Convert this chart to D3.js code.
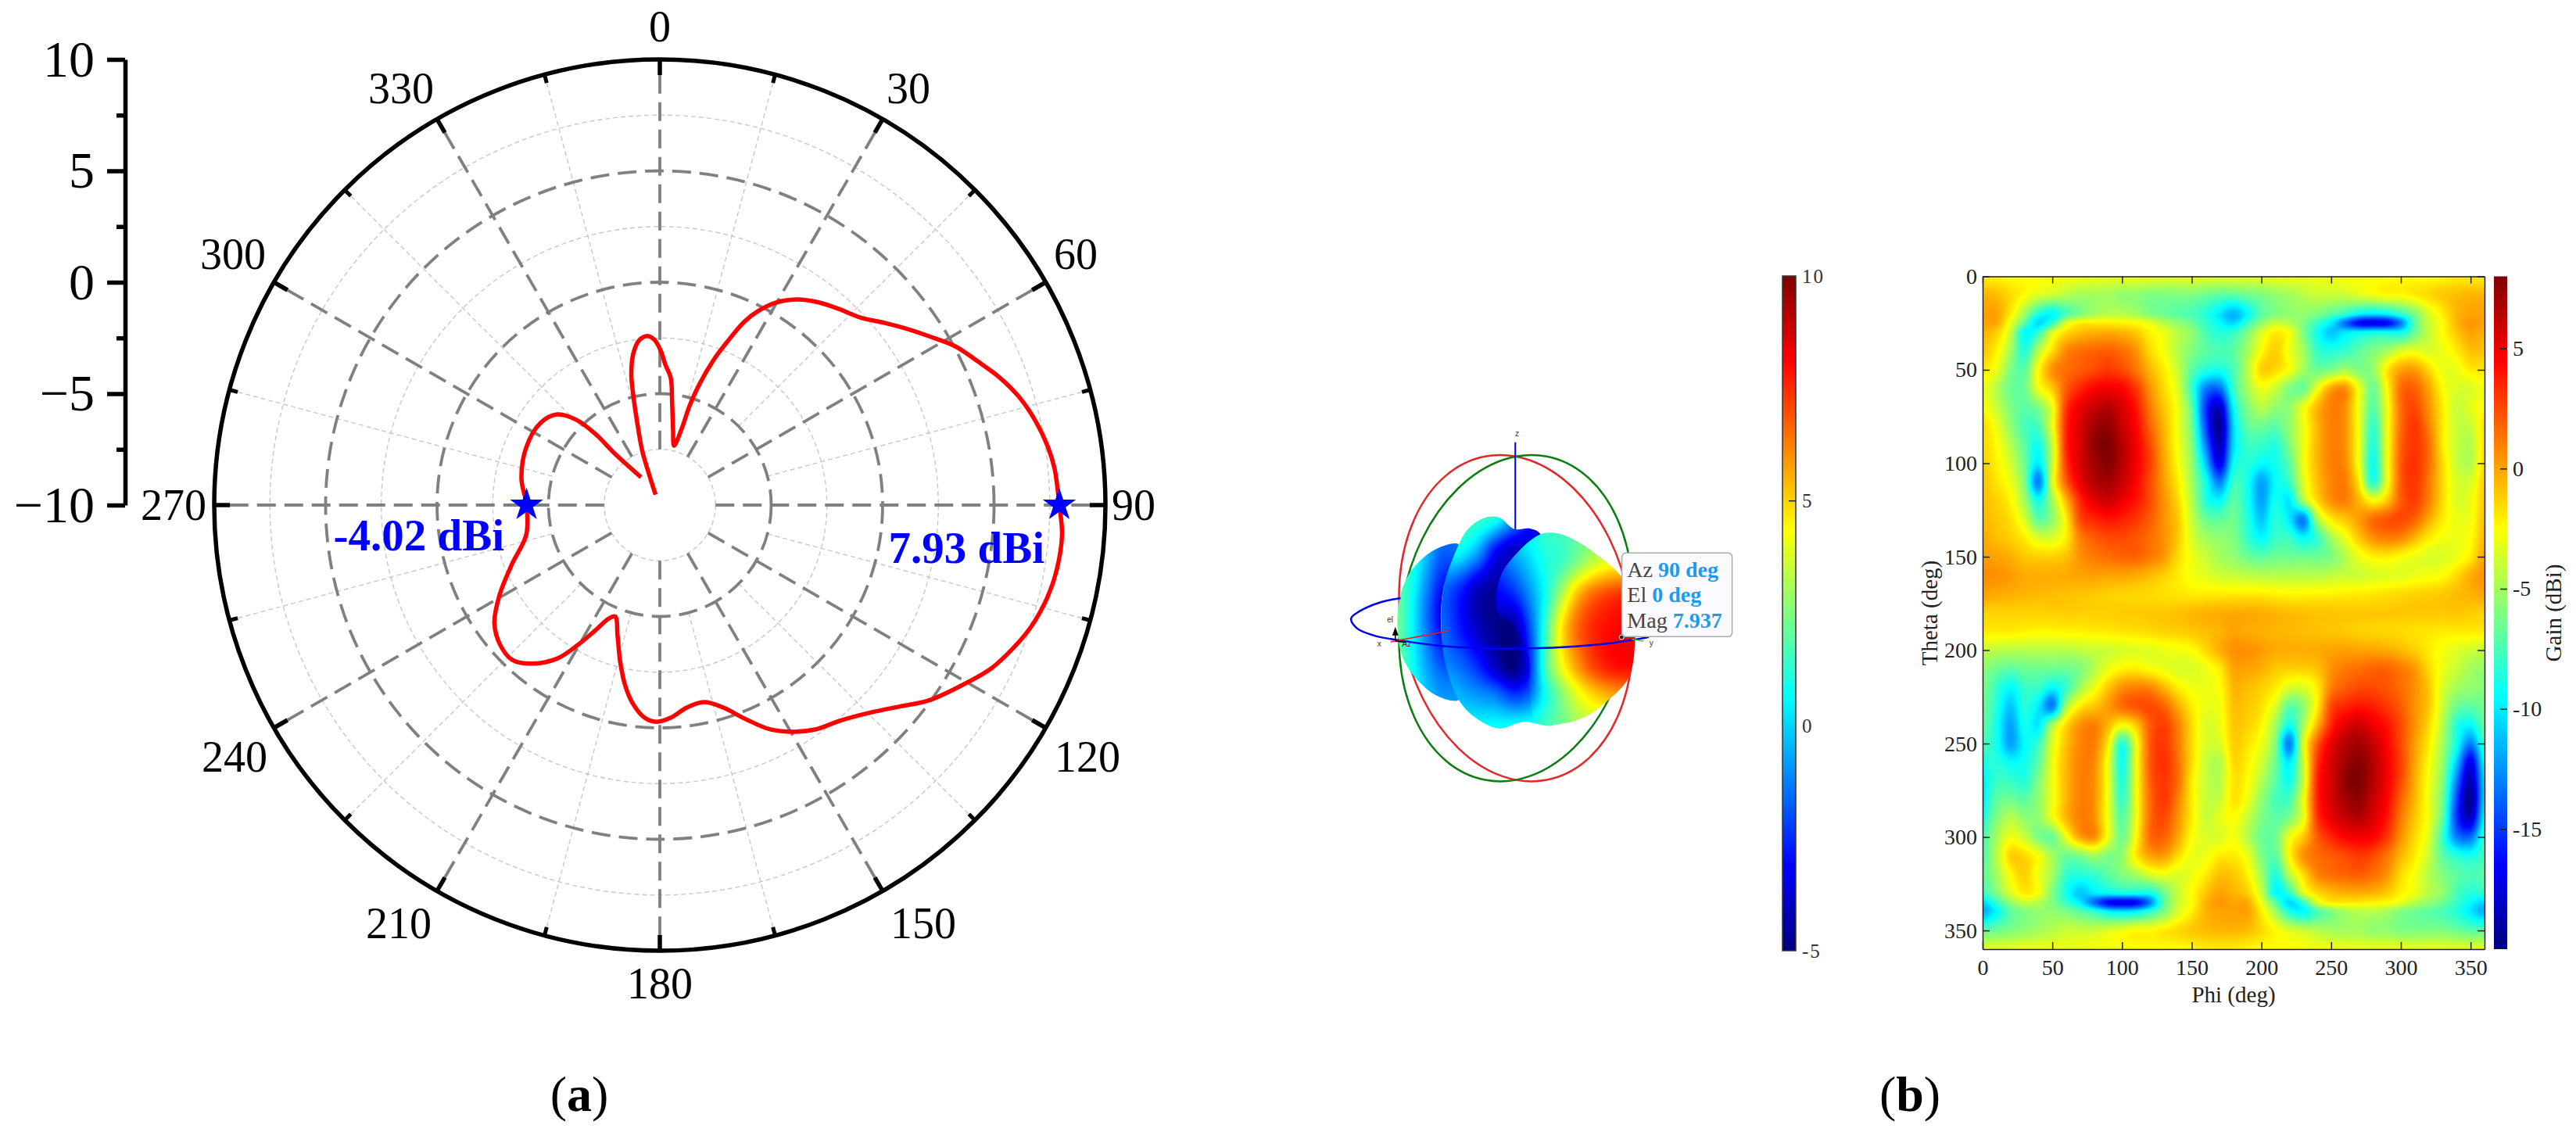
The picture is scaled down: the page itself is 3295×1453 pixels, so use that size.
<!DOCTYPE html>
<html>
<head>
<meta charset="utf-8">
<script src="https://cdn.jsdelivr.net/npm/d3@7"></script>
<style>
  body { margin: 0; background: #fff; }
  text { font-family: "Liberation Serif", serif; }
</style>
</head>
<body>
<div id="chart"></div>
<script>
// (a) polar cut, degrees and dBi
const polarAngle = [337.7,340.7,342,344.5,346.2,347.7,350.1,352.8,355.8,358.2,0.5,2.1,4.9,6.8,10,13.5,15.9,16.7,18.1,20.3,22.5,24.7,26.9,29.7,33.6,37.9,42.9,46.9,50.9,54.6,57.9,61.7,65.8,69.5,73.2,77.4,81.3,84.7,90,94.2,99.2,103.4,108.2,112.3,116.4,121.8,126.2,129.9,134.7,139.9,145.3,149.4,153.8,158,162.7,167.4,172.3,177.1,180.9,184.1,187.7,191,194.4,197.9,201.8,204.1,207.3,210.3,213.8,219.1,223.7,228.9,234.4,240.5,248.2,257.5,270,280.7,293.3,304.5,311.4,315.5,317.8,318.7,325.9];
const polarGain = [-9.49,-8.59,-7.45,-6.26,-5.09,-3.99,-3.09,-2.55,-2.39,-2.59,-3.12,-3.66,-4.27,-5.35,-6.58,-7.26,-6.5,-5.34,-4.32,-3.07,-2.04,-0.95,-0.23,0.45,1.08,1.54,1.96,2.32,2.97,3.64,4.26,5.04,5.68,6.3,6.83,7.28,7.6,7.79,7.93,8.1,8.05,7.88,7.53,7.08,6.56,5.62,4.88,4.08,3.25,2.63,2.25,1.82,1.22,0.38,-0.49,-0.94,-0.84,-0.44,-0.27,-0.43,-1,-1.79,-2.81,-3.83,-4.61,-4.43,-3.66,-2.75,-1.71,-0.83,-0.4,-0.48,-0.87,-1.72,-2.85,-3.86,-4.02,-3.68,-3.47,-3.5,-3.85,-4.62,-5.67,-6.87,-8.49];
const markerAngle = [90, 270];
const markerGain = [7.93, -4.02];
const markerText = ['7.93 dBi', '-4.02 dBi'];
const radialTicks = [-10, -5, 0, 5, 10];
const radialMinor = [-7.5, -2.5, 2.5, 7.5];
const angleTicks = [0, 30, 60, 90, 120, 150, 180, 210, 240, 270, 300, 330];
const angleMinor = [15, 45, 75, 105, 135, 165, 195, 225, 255, 285, 315, 345];

// (b) heat map, gain in dBi, one row per theta, one value per phi (0..350 step 10)
const phiValues = d3.range(0, 360, 10);
const thetaValues = [0,10,20,25,30,40,50,60,70,80,90,100,110,120,130,140,150,160,170,180,190,200,210,220,230,240,250,260,270,280,290,300,310,320,330,335,340,350,360];
const gainRows = [
[-2,-2.2,-2.5,-2.5,-2.5,-2.7,-2.8,-2.8,-3,-3,-3,-3,-3,-3.2,-3.2,-3.2,-3.3,-3.3,-3.3,-3.3,-3.2,-3,-3,-3,-3,-3,-2.8,-2.8,-2.8,-2.6,-2.5,-2.5,-2.5,-2.3,-2,-2],
[-0.5,-0.7,-1.5,-2.5,-3.5,-4,-4.5,-5,-5,-5,-5.5,-5.5,-6,-6,-6,-6,-6.5,-7,-7,-6.5,-6,-5.5,-5,-4.5,-4,-4,-4,-3.5,-3,-2.5,-2.5,-2,-1.5,-1,-0.7,-0.5],
[0,0,-2,-5,-8.5,-9.5,-7.5,-6,-5,-4.5,-4.5,-5,-6,-6.5,-7,-7.5,-8.5,-10,-11.5,-9.5,-7,-6,-5.5,-5.5,-6,-7,-8,-9.5,-10,-9.5,-8,-6,-3.5,-2,-0.5,0],
[0,-0.2,-3,-7,-10.5,-8,-3.5,-2,-2,-2,-2.2,-2.5,-3.2,-4.5,-5.5,-6.5,-8,-9.5,-10.5,-8,-5.5,-4,-4.5,-6,-8,-10,-13.5,-16.5,-17,-16.5,-13,-7,-4,-2.5,-0.5,0.3],
[-0.5,-1.2,-4,-9.5,-8,-3.5,-1.5,-0.7,-0.3,-0.2,-0.4,-1,-2.2,-3,-4.5,-5.5,-7.5,-8.5,-8,-6,-3.5,-2,-2.8,-6,-9,-11,-10,-9.5,-9,-9,-9,-6.5,-4,-2.5,-1,0],
[-1,-2.2,-5,-8.5,-4.5,-1.5,0.8,1.5,1.8,2,1.5,0.5,-1.5,-2.8,-4.5,-6,-7,-7.5,-7,-5,-2.5,-1.2,-3,-5,-8,-8.5,-8,-7,-6,-5,-3.5,-3,-3.5,-3,-2,-0.8],
[-2,-3,-6,-7,-2.5,0.5,1.5,2,2.5,3,2.5,1.3,-0.5,-2,-4,-7,-8.5,-9,-7.5,-4.5,-1.3,-1.5,-2.8,-5,-6.5,-6,-5,-6,-5.5,-2,0,0.2,-1.5,-3,-3,-2],
[-2.8,-4.5,-6.5,-6.5,-3,-1,2,3.5,4.5,4.8,4.5,3,0.5,-1.5,-3.5,-8,-13,-13.5,-8,-5,-3,-4,-6,-6.5,-3,0,0.5,-3,-6.5,-2.5,1.5,1.8,0,-2.5,-3.5,-3.5],
[-2.5,-4,-6,-7,-6,-3,3,5,6,6.5,5.5,4,1.2,-1,-3,-7,-15,-18,-9.5,-6,-4.5,-5.5,-5.5,-3,-0.5,1,0.5,-3,-7,-3,1.5,2.5,0.5,-2,-4,-3.2],
[-1.8,-3,-5.5,-7.5,-7.5,-3,3.5,5.5,7,7.5,6,4.5,1.8,-0.5,-3,-6.5,-14.5,-19.5,-10.5,-7,-6.5,-7,-5.5,-3,-0.5,1,0.5,-3,-8,-3,1.5,3,1,-2,-4,-4],
[-1.8,-2.5,-4.5,-7,-9,-4,3.5,5.5,7.5,8,6.5,4.8,2.5,-0.3,-2.8,-6,-13,-18.5,-10.5,-8,-8,-8.5,-6,-3,-0.5,1,0.5,-3,-8.5,-3,1.8,3,1.5,-2,-4,-4.5],
[-1.5,-2.2,-3.8,-6.5,-10,-4,3,5.5,7,7.8,6.5,4.8,2.8,0,-2.5,-5.5,-11,-17,-9.5,-8.5,-9.5,-9,-7,-3,-0.5,1,0.7,-3,-9,-3,2,3.2,1.5,-1.5,-4,-4.5],
[-1.2,-1.8,-3,-6,-13,-3.5,2,5,6.5,7,6,4.5,2.5,0.2,-2,-5,-9,-13,-8,-9,-12,-9.5,-8,-3.5,-0.8,0.8,1,-2,-8.5,-3,2,3,1.2,-1.5,-3.5,-3.5],
[-1,-1.3,-2.3,-5,-9,-5,-0.5,3.5,5.2,5.8,5,4,2.5,0.5,-1.5,-4.5,-8.5,-9.5,-7,-9,-12,-9,-10,-5,-1.5,0.5,1,-0.5,-2.5,-1,2,2.8,1,-1.5,-3.5,-3],
[-0.8,-1,-1.7,-3.5,-7,-5.5,-2,2.5,3.5,4,3.7,3,2,0.5,-1,-4,-6.5,-7,-6.5,-8.5,-11,-8.5,-10,-13,-5,-2,-1,0.2,1.5,2.2,2.5,1.8,-0.2,-2,-3,-2.8],
[-0.5,-0.7,-1.2,-2,-3.5,-3.5,-2,1,2,2.5,2.5,2.2,1.5,0.5,-1,-3.5,-5,-5.5,-6,-8,-9.5,-8,-8,-9.5,-8,-5,-3,-1,0.5,1,0.8,-0.5,-2,-2.8,-3,-2.5],
[0,0,-0.3,-1,-1.2,-1.2,-0.8,0.5,1.2,1.5,1.8,1.8,1.2,0.3,-1.5,-3,-4,-5,-5.5,-6.5,-7,-6.5,-6.5,-6.5,-6.5,-6,-4.5,-3,-2.2,-2,-2.5,-3,-3.5,-3.5,-3,-2],
[0.5,0.5,0.2,-0.2,-0.3,-0.3,-0.2,0,0.1,0,0,-0.2,-0.6,-1.2,-2,-2.8,-3.3,-3.8,-4,-4.3,-4.5,-4.5,-4.5,-4.5,-4.5,-4.2,-4,-3.8,-3.5,-3.3,-3.3,-3,-2.8,-2.5,-1.5,-0.3],
[0,-0.2,-0.3,-0.5,-0.6,-0.7,-0.8,-0.9,-1,-1.2,-1.3,-1.4,-1.5,-1.7,-1.8,-2,-2,-2,-2,-2,-2,-2.2,-2.3,-2.3,-2.2,-2.2,-2,-2,-1.8,-1.7,-1.5,-1.3,-1.2,-1,-0.7,-0.4],
[-1.3,-1.3,-1.3,-1.3,-1.3,-1.2,-1.2,-1.2,-1.2,-1.2,-1.1,-1.1,-1,-1,-0.8,-0.6,-0.4,-0.3,-0.2,-0.2,-0.3,-0.5,-0.7,-0.8,-0.9,-0.9,-1,-1,-1,-1,-1,-1,-1,-1,-0.9,-1.1],
[-2,-2,-2,-2.2,-2.3,-2.3,-2.2,-2.2,-2,-2,-1.8,-1.7,-1.5,-1.3,-1.2,-1,-0.7,-0.4,0,-0.2,-0.3,-0.5,-0.6,-0.7,-0.8,-0.9,-1,-1.2,-1.3,-1.4,-1.5,-1.7,-1.8,-2,-2,-2],
[-4,-4.3,-4.5,-4.5,-4.5,-4.5,-4.5,-4.2,-4,-3.8,-3.5,-3.3,-3.3,-3,-2.8,-2.5,-1.5,-0.3,0.5,0.5,0.2,-0.2,-0.3,-0.3,-0.2,0,0.1,0,0,-0.2,-0.6,-1.2,-2,-2.8,-3.3,-3.8],
[-5.5,-6.5,-7,-6.5,-6.5,-6.5,-6.5,-6,-4.5,-3,-2.2,-2,-2.5,-3,-3.5,-3.5,-3,-2,0,0,-0.3,-1,-1.2,-1.2,-0.8,0.5,1.2,1.5,1.8,1.8,1.2,0.3,-1.5,-3,-4,-5],
[-6,-8,-9.5,-8,-8,-9.5,-8,-5,-3,-1,0.5,1,0.8,-0.5,-2,-2.8,-3,-2.5,-0.5,-0.7,-1.2,-2,-3.5,-3.5,-2,1,2,2.5,2.5,2.2,1.5,0.5,-1,-3.5,-5,-5.5],
[-6.5,-8.5,-11,-8.5,-10,-13,-5,-2,-1,0.2,1.5,2.2,2.5,1.8,-0.2,-2,-3,-2.8,-0.8,-1,-1.7,-3.5,-7,-5.5,-2,2.5,3.5,4,3.7,3,2,0.5,-1,-4,-6.5,-7],
[-7,-9,-12,-9,-10,-5,-1.5,0.5,1,-0.5,-2.5,-1,2,2.8,1,-1.5,-3.5,-3,-1,-1.3,-2.3,-5,-9,-5,-0.5,3.5,5.2,5.8,5,4,2.5,0.5,-1.5,-4.5,-8.5,-9.5],
[-8,-9,-12,-9.5,-8,-3.5,-0.8,0.8,1,-2,-8.5,-3,2,3,1.2,-1.5,-3.5,-3.5,-1.2,-1.8,-3,-6,-13,-3.5,2,5,6.5,7,6,4.5,2.5,0.2,-2,-5,-9,-13],
[-9.5,-8.5,-9.5,-9,-7,-3,-0.5,1,0.7,-3,-9,-3,2,3.2,1.5,-1.5,-4,-4.5,-1.5,-2.2,-3.8,-6.5,-10,-4,3,5.5,7,7.8,6.5,4.8,2.8,0,-2.5,-5.5,-11,-17],
[-10.5,-8,-8,-8.5,-6,-3,-0.5,1,0.5,-3,-8.5,-3,1.8,3,1.5,-2,-4,-4.5,-1.8,-2.5,-4.5,-7,-9,-4,3.5,5.5,7.5,8,6.5,4.8,2.5,-0.3,-2.8,-6,-13,-18.5],
[-10.5,-7,-6.5,-7,-5.5,-3,-0.5,1,0.5,-3,-8,-3,1.5,3,1,-2,-4,-4,-1.8,-3,-5.5,-7.5,-7.5,-3,3.5,5.5,7,7.5,6,4.5,1.8,-0.5,-3,-6.5,-14.5,-19.5],
[-9.5,-6,-4.5,-5.5,-5.5,-3,-0.5,1,0.5,-3,-7,-3,1.5,2.5,0.5,-2,-4,-3.2,-2.5,-4,-6,-7,-6,-3,3,5,6,6.5,5.5,4,1.2,-1,-3,-7,-15,-18],
[-8,-5,-3,-4,-6,-6.5,-3,0,0.5,-3,-6.5,-2.5,1.5,1.8,0,-2.5,-3.5,-3.5,-2.8,-4.5,-6.5,-6.5,-3,-1,2,3.5,4.5,4.8,4.5,3,0.5,-1.5,-3.5,-8,-13,-13.5],
[-7.5,-4.5,-1.3,-1.5,-2.8,-5,-6.5,-6,-5,-6,-5.5,-2,0,0.2,-1.5,-3,-3,-2,-2,-3,-6,-7,-2.5,0.5,1.5,2,2.5,3,2.5,1.3,-0.5,-2,-4,-7,-8.5,-9],
[-7,-5,-2.5,-1.2,-3,-5,-8,-8.5,-8,-7,-6,-5,-3.5,-3,-3.5,-3,-2,-0.8,-1,-2.2,-5,-8.5,-4.5,-1.5,0.8,1.5,1.8,2,1.5,0.5,-1.5,-2.8,-4.5,-6,-7,-7.5],
[-8,-6,-3.5,-2,-2.8,-6,-9,-11,-10,-9.5,-9,-9,-9,-6.5,-4,-2.5,-1,0,-0.5,-1.2,-4,-9.5,-8,-3.5,-1.5,-0.7,-0.3,-0.2,-0.4,-1,-2.2,-3,-4.5,-5.5,-7.5,-8.5],
[-10.5,-8,-5.5,-4,-4.5,-6,-8,-10,-13.5,-16.5,-17,-16.5,-13,-7,-4,-2.5,-0.5,0.3,0,-0.2,-3,-7,-10.5,-8,-3.5,-2,-2,-2,-2.2,-2.5,-3.2,-4.5,-5.5,-6.5,-8,-9.5],
[-11.5,-9.5,-7,-6,-5.5,-5.5,-6,-7,-8,-9.5,-10,-9.5,-8,-6,-3.5,-2,-0.5,0,0,0,-2,-5,-8.5,-9.5,-7.5,-6,-5,-4.5,-4.5,-5,-6,-6.5,-7,-7.5,-8.5,-10],
[-7,-6.5,-6,-5.5,-5,-4.5,-4,-4,-4,-3.5,-3,-2.5,-2.5,-2,-1.5,-1,-0.7,-0.5,-0.5,-0.7,-1.5,-2.5,-3.5,-4,-4.5,-5,-5,-5,-5.5,-5.5,-6,-6,-6,-6,-6.5,-7],
[-3.3,-3.3,-3.2,-3,-3,-3,-3,-3,-2.8,-2.8,-2.8,-2.6,-2.5,-2.5,-2.5,-2.3,-2,-2,-2,-2.2,-2.5,-2.5,-2.5,-2.7,-2.8,-2.8,-3,-3,-3,-3,-3,-3.2,-3.2,-3.2,-3.3,-3.3]
];
const phiTicks = d3.range(0, 351, 50);
const thetaTicks = d3.range(0, 351, 50);
const gainBarTicks = [5, 0, -5, -10, -15];
const patternBarTicks = [10, 5, 0, -5];

// 3D pattern view. Positions are in view units, a 1568x1560 frame mapped by viewX / viewY
const lobeLeft = [[470,530],[400,545],[330,610],[290,690],[272,800],[285,950],[330,1040],[400,1110],[470,1125],[440,1000],[415,880],[420,700]];
const lobeMid = [[470,530],[500,470],[550,428],[600,425],[650,470],[700,468],[735,490],[800,800],[800,1100],[780,1220],[680,1210],[600,1235],[520,1190],[470,1125],[430,1000],[415,880],[420,700]];
const lobeRight = [[735,490],[790,487],[850,515],[930,580],[1000,660],[1030,780],[1040,900],[1020,1040],[950,1130],[880,1190],[780,1220],[720,1205],[700,1080],[695,950],[640,830],[600,800],[590,740],[610,640],[660,560]];
const leftXs = [272,320,360,410,470];
const leftYs = [530,800,1125];
const leftGain = [[1.5,1.2,0,-1.5,-1.5],[2.2,0.6,-1.2,-3.2,-4],[2,1,0,-0.8,-0.8]];
const midXs = [410,470,530,590,650,710,770];
const midYs = [425,550,700,850,1000,1100,1230];
const midGain = [[1.5,1.5,1.5,1,-1,-3,-3.5],[0.8,0.8,-0.5,-3,-4,-3.5,-3],[-1.5,-2.5,-4,-4.5,-3,-1,0.5],[-1.5,-2.7,-4,-4.8,-4.8,-1.5,1.5],[-1,-1.5,-2.5,-4,-5,-2.5,2],[0,-0.5,-1,-1.5,-2.5,-1.5,0.8],[0.5,0.5,0.6,0.7,0.8,1,2]];
const rightXs = [590,650,700,750,800,850,900,960,1040];
const rightYs = [487,600,720,850,1000,1100,1220];
const rightGain = [[0,0,0.8,1.3,1.5,2,2.5,3,3],[-2,-1,0,1,1.5,2.5,3.5,4.2,4.5],[-3.2,-2.5,-1,0.8,3,5.2,6.5,7.2,7.5],[-4.5,-4.5,-2,1.3,4.5,6.5,7.5,8,8.2],[-5,-5,-2.5,1.5,4,5.7,7,7.8,8],[-2,-2.5,-1.5,0.8,2.5,4,5,5.7,6],[0.8,0.8,1,1.5,2.2,3,3.5,3.5,3.5]];
const ringPath = [[282,735],[220,750],[150,785],[122,813],[140,850],[200,880],[280,897],[400,917],[550,927],[700,928],[850,920],[960,908],[1035,895],[1085,884]];

const width = 3295, height = 1453;
const svg = d3.select('#chart').append('svg').attr('width', width).attr('height', height);

// jet colormap
const jet = d3.scaleLinear()
  .domain([0, 0.125, 0.375, 0.625, 0.875, 1])
  .range(['#00007f', '#0000ff', '#00ffff', '#ffff00', '#ff0000', '#7f0000'])
  .clamp(true);
const jetLut = d3.range(1025).map(i => jet(i / 1024));

function cubic(p0, p1, p2, p3, t) {
  return p1 + 0.5 * t * (p2 - p0 + t * (2 * p0 - 5 * p1 + 4 * p2 - p3 + t * (3 * (p1 - p2) + p3 - p0)));
}

// smooth lookup in a value table, u and v are fractional table indexes
function lookup(rows, u, v, wrap) {
  const nc = rows[0].length, nr = rows.length;
  const iu = Math.floor(u), iv = Math.floor(v);
  const col = i => wrap ? (i + nc) % nc : Math.max(0, Math.min(nc - 1, i));
  const row = i => Math.max(0, Math.min(nr - 1, i));
  const vals = [-1, 0, 1, 2].map(dv => {
    const r = rows[row(iv + dv)];
    return cubic(r[col(iu - 1)], r[col(iu)], r[col(iu + 1)], r[col(iu + 2)], u - iu);
  });
  return cubic(vals[0], vals[1], vals[2], vals[3], v - iv);
}

function paint(ctx, x0, x1, y0, y1, toU, toV, rows, toT, wrap) {
  for (let y = Math.floor(y0); y < y1; y++) {
    const v = toV(y + 0.5);
    for (let x = Math.floor(x0); x < x1; x++) {
      const t = toT(lookup(rows, toU(x + 0.5), v, wrap));
      ctx.fillStyle = jetLut[Math.round(Math.max(0, Math.min(1, t)) * 1024)];
      ctx.fillRect(x - x0, y - y0, 1, 1);
    }
  }
}

// ---------- (a) polar plot ----------
const cx = 844, cy = 646, R = 570;
const radius = d3.scaleLinear().domain([-10, 10]).range([0, R]);
const angle = d3.scaleLinear().domain([0, 360]).range([0, 2 * Math.PI]);
const polar = svg.append('g').attr('transform', `translate(${cx},${cy})`);

polar.selectAll('circle.minor').data(radialMinor).enter().append('circle')
  .attr('r', d => radius(d)).attr('fill', 'none')
  .attr('stroke', '#c8c8c8').attr('stroke-width', 1.4).attr('stroke-dasharray', '6 4');

polar.selectAll('line.minor').data(angleMinor).enter().append('line')
  .attr('x1', d => radius(-5) * Math.sin(angle(d))).attr('y1', d => -radius(-5) * Math.cos(angle(d)))
  .attr('x2', d => R * Math.sin(angle(d))).attr('y2', d => -R * Math.cos(angle(d)))
  .attr('stroke', '#c8c8c8').attr('stroke-width', 1.4).attr('stroke-dasharray', '6 4');

polar.selectAll('circle.major').data([-5, 0, 5]).enter().append('circle')
  .attr('r', d => radius(d)).attr('fill', 'none')
  .attr('stroke', '#808080').attr('stroke-width', 3.8).attr('stroke-dasharray', '24 11');

polar.selectAll('line.major').data(angleTicks).enter().append('line')
  .attr('x1', d => radius(-7.5) * Math.sin(angle(d))).attr('y1', d => -radius(-7.5) * Math.cos(angle(d)))
  .attr('x2', d => R * Math.sin(angle(d))).attr('y2', d => -R * Math.cos(angle(d)))
  .attr('stroke', '#808080').attr('stroke-width', 3.8).attr('stroke-dasharray', '24 11');

polar.append('circle').attr('r', R).attr('fill', 'none').attr('stroke', '#000').attr('stroke-width', 5.5);

// ticks on the rim
polar.selectAll('line.tick').data(angleTicks).enter().append('line')
  .attr('x1', d => (R - 20) * Math.sin(angle(d))).attr('y1', d => -(R - 20) * Math.cos(angle(d)))
  .attr('x2', d => R * Math.sin(angle(d))).attr('y2', d => -R * Math.cos(angle(d)))
  .attr('stroke', '#000').attr('stroke-width', 5.5);
polar.selectAll('line.tickm').data(angleMinor).enter().append('line')
  .attr('x1', d => (R - 11) * Math.sin(angle(d))).attr('y1', d => -(R - 11) * Math.cos(angle(d)))
  .attr('x2', d => R * Math.sin(angle(d))).attr('y2', d => -R * Math.cos(angle(d)))
  .attr('stroke', '#000').attr('stroke-width', 5);

// label offsets from the centre, same order as angleTicks
const labelDx = [0, 318, 532, 606, 547, 337, 0, -334, -544, -622, -546, -331];
const labelDy = [-612, -533, -321, 0, 322, 535, 612, 535, 322, 0, -321, -533];
polar.selectAll('text.angle').data(angleTicks).enter().append('text')
  .attr('x', (d, i) => labelDx[i])
  .attr('y', (d, i) => labelDy[i])
  .attr('text-anchor', 'middle').attr('dominant-baseline', 'central')
  .style('font-size', '56px').text(d => d);

const polarLine = d3.lineRadial()
  .angle(i => angle(polarAngle[i]))
  .radius(i => radius(polarGain[i]))
  .curve(d3.curveCatmullRom.alpha(0.5));
polar.append('path').datum(d3.range(polarAngle.length)).attr('d', polarLine)
  .attr('fill', 'none').attr('stroke', '#ff0000').attr('stroke-width', 5.5);

polar.selectAll('path.star').data(markerAngle).enter().append('path')
  .attr('d', d3.symbol(d3.symbolStar, 560))
  .attr('transform', (d, i) => `translate(${radius(markerGain[i]) * Math.sin(angle(d))},${-radius(markerGain[i]) * Math.cos(angle(d))})`)
  .attr('fill', '#0000ff');

svg.selectAll('text.marker').data(markerText).enter().append('text')
  .attr('x', (d, i) => i === 0 ? 1336 : 645).attr('y', (d, i) => i === 0 ? 720 : 704)
  .attr('text-anchor', 'end').attr('fill', '#0000ff')
  .style('font-size', '57px').style('font-weight', 'bold').text(d => d);

// radial scale on the left
const radialY = d3.scaleLinear().domain([-10, 10]).range([cy, cy - R]);
const radialAxis = svg.append('g').attr('transform', 'translate(160,0)')
  .call(d3.axisLeft(radialY).tickValues(radialTicks).tickSize(23).tickSizeOuter(0).tickPadding(16));
radialAxis.selectAll('.domain, .tick line').attr('stroke', '#000').attr('stroke-width', 5.5);
radialAxis.selectAll('text').style('font-size', '66px').style('font-family', '"Liberation Serif", serif');
const radialMinorAxis = svg.append('g').attr('transform', 'translate(160,0)')
  .call(d3.axisLeft(radialY).tickValues(radialMinor).tickSize(11).tickSizeOuter(0).tickFormat(''));
radialMinorAxis.select('.domain').remove();
radialMinorAxis.selectAll('.tick line').attr('stroke', '#000').attr('stroke-width', 5.5);

svg.append('text').attr('x', 741).attr('y', 1421).attr('text-anchor', 'middle').style('font-size', '64px')
  .html('(<tspan style="font-weight:bold">a</tspan>)');
svg.append('text').attr('x', 2443).attr('y', 1421).attr('text-anchor', 'middle').style('font-size', '64px')
  .html('(<tspan style="font-weight:bold">b</tspan>)');

// ---------- (b) 3D pattern ----------
const viewX = d3.scaleLinear().domain([0, 1568]).range([1680, 2300]);
const viewY = d3.scaleLinear().domain([0, 1560]).range([520, 1040]);
const pt = d => [viewX(d[0]), viewY(d[1])];

const ellipseCx = viewX(655), ellipseCy = viewY(812);
[['#e02a2a', 79.25], ['#0b7d12', -79.25]].forEach(e => {
  svg.append('ellipse').attr('rx', 210.6).attr('ry', 146.8)
    .attr('transform', `translate(${ellipseCx},${ellipseCy}) rotate(${e[1]})`)
    .attr('fill', 'none').attr('stroke', e[0]).attr('stroke-width', 2.5);
});
svg.append('line').attr('x1', viewX(653)).attr('x2', viewX(653)).attr('y1', viewY(137)).attr('y2', viewY(480))
  .attr('stroke', '#0000ee').attr('stroke-width', 2);

const ringLine = d3.line().x(d => viewX(d[0])).y(d => viewY(d[1])).curve(d3.curveCatmullRom);

const patternT = d3.scaleLinear().domain([-5, 10]).range([0, 1]);
const bx0 = 1770, bx1 = 2100, by0 = 650, by1 = 945;
const balloon = document.createElement('canvas');
balloon.width = bx1 - bx0; balloon.height = by1 - by0;
const bctx = balloon.getContext('2d');
const outline = d3.line().x(d => viewX(d[0]) - bx0).y(d => viewY(d[1]) - by0).curve(d3.curveCatmullRomClosed);
[[lobeLeft, leftXs, leftYs, leftGain], [lobeMid, midXs, midYs, midGain], [lobeRight, rightXs, rightYs, rightGain]].forEach(l => {
  const toU = d3.scaleLinear().domain(l[1].map(viewX)).range(d3.range(l[1].length)).clamp(true);
  const toV = d3.scaleLinear().domain(l[2].map(viewY)).range(d3.range(l[2].length)).clamp(true);
  const off = document.createElement('canvas');
  off.width = balloon.width; off.height = balloon.height;
  const ctx = off.getContext('2d');
  ctx.clip(new Path2D(outline(l[0])));
  paint(ctx, bx0, bx1, by0, by1, toU, toV, l[3], patternT, false);
  bctx.drawImage(off, 0, 0);
});
svg.append('image').attr('x', bx0).attr('y', by0).attr('width', balloon.width).attr('height', balloon.height)
  .attr('href', balloon.toDataURL());

svg.append('path').datum(ringPath).attr('d', ringLine).attr('fill', 'none')
  .attr('stroke', '#0000ee').attr('stroke-width', 2.5);

// little axes triad
svg.append('line').attr('x1', viewX(250)).attr('y1', viewY(903)).attr('x2', viewX(438)).attr('y2', viewY(860))
  .attr('stroke', '#f01818').attr('stroke-width', 1.5);
svg.append('line').attr('x1', viewX(1030)).attr('y1', viewY(893)).attr('x2', viewX(1068)).attr('y2', viewY(900))
  .attr('stroke', '#22dd22').attr('stroke-width', 1.5);
svg.append('line').attr('x1', viewX(265)).attr('y1', viewY(898)).attr('x2', viewX(265)).attr('y2', viewY(860))
  .attr('stroke', '#000').attr('stroke-width', 1.5);
svg.append('path').datum([[265, 845], [255, 878], [275, 878]])
  .attr('d', d => 'M' + d.map(p => pt(p).join(',')).join('L') + 'Z').attr('fill', '#000');
svg.append('line').attr('x1', viewX(265)).attr('y1', viewY(900)).attr('x2', viewX(300)).attr('y2', viewY(905))
  .attr('stroke', '#000').attr('stroke-width', 1.5);
svg.append('circle').attr('cx', viewX(997)).attr('cy', viewY(885)).attr('r', 3)
  .attr('fill', '#222').attr('stroke', '#fff').attr('stroke-width', 1);

const viewLabels = ['z', 'x', 'y', 'el', 'Az'];
const viewLabelX = [659, 213, 1093, 248, 302];
const viewLabelY = [115, 922, 918, 828, 922];
svg.selectAll('text.view').data(viewLabels).enter().append('text')
  .attr('x', (d, i) => viewX(viewLabelX[i])).attr('y', (d, i) => viewY(viewLabelY[i]))
  .attr('text-anchor', 'middle').attr('fill', '#333')
  .style('font-family', '"Liberation Sans", sans-serif').style('font-size', '10px')
  .style('font-style', d => d === 'Az' ? 'italic' : 'normal').text(d => d);

// readout box
svg.append('rect').attr('x', viewX(998)).attr('y', viewY(562)).attr('width', 141).attr('height', 107).attr('rx', 5)
  .attr('fill', '#fafaff').attr('stroke', '#aaa').attr('stroke-width', 1.5);
const readName = ['Az', 'El', 'Mag'];
const readValue = ['90 deg', '0 deg', '7.937'];
readName.forEach((n, i) => {
  const t = svg.append('text').attr('x', viewX(1015)).attr('y', 738 + i * 32.3).style('font-size', '28px').attr('fill', '#444');
  t.append('tspan').text(n + ' ');
  t.append('tspan').text(readValue[i]).attr('fill', '#1e9bf0').style('font-weight', 'bold');
});

// pattern colour bar
const defs = svg.append('defs');
const grad = defs.append('linearGradient').attr('id', 'jetGrad').attr('x1', 0).attr('x2', 0).attr('y1', 1).attr('y2', 0);
grad.selectAll('stop').data(d3.range(0, 1.001, 0.025)).enter().append('stop')
  .attr('offset', d => d).attr('stop-color', d => jet(d));

const barY = d3.scaleLinear().domain([-5, 10]).range([1216, 353]);
svg.append('rect').attr('x', 2280).attr('y', 353).attr('width', 17).attr('height', 863)
  .attr('fill', 'url(#jetGrad)').attr('stroke', '#333').attr('stroke-width', 1.5);
svg.append('line').attr('x1', 2288).attr('x2', 2297).attr('y1', barY(5)).attr('y2', barY(5)).attr('stroke', '#222').attr('stroke-width', 1.5);
svg.selectAll('text.barp').data(patternBarTicks).enter().append('text')
  .attr('x', 2305).attr('y', d => barY(d)).attr('dominant-baseline', 'central')
  .attr('fill', '#333').style('font-size', '25px').style('letter-spacing', '2px').text(d => d);

// ---------- (b) heat map ----------
const hx0 = 2536, hx1 = 3178, hy0 = 353.5, hy1 = 1214;
const phiX = d3.scaleLinear().domain([0, 360]).range([hx0, hx1]);
const thetaY = d3.scaleLinear().domain([0, 360]).range([hy0, hy1]);
const gainT = d3.scaleLinear().domain([-20, 8]).range([0, 1]);

const heat = document.createElement('canvas');
heat.width = Math.ceil(hx1 - hx0); heat.height = Math.ceil(hy1 - hy0);
const toPhiIndex = x => phiX.invert(x) / 10;
const thetaIndex = d3.scaleLinear().domain(thetaValues).range(d3.range(thetaValues.length)).clamp(true);
paint(heat.getContext('2d'), hx0, hx1, Math.floor(hy0), hy1, toPhiIndex, y => thetaIndex(thetaY.invert(y)), gainRows, gainT, true);
svg.append('image').attr('x', hx0).attr('y', Math.floor(hy0)).attr('width', heat.width).attr('height', heat.height)
  .attr('href', heat.toDataURL());

function styleAxis(g) {
  g.selectAll('.domain').attr('stroke', '#222').attr('stroke-width', 1.5);
  g.selectAll('.tick line').attr('stroke', '#222').attr('stroke-width', 1.5);
  g.selectAll('text').style('font-family', '"Liberation Serif", serif').style('font-size', '28px').attr('fill', '#222');
}
svg.append('g').attr('transform', `translate(0,${hy1})`)
  .call(d3.axisBottom(phiX).tickValues(phiTicks).tickSize(-9).tickSizeOuter(0).tickPadding(13)).call(styleAxis);
svg.append('g').attr('transform', `translate(0,${hy0})`)
  .call(d3.axisTop(phiX).tickValues(phiTicks).tickSize(-9).tickSizeOuter(0).tickFormat('')).call(styleAxis);
svg.append('g').attr('transform', `translate(${hx0},0)`)
  .call(d3.axisLeft(thetaY).tickValues(thetaTicks).tickSize(-9).tickSizeOuter(0).tickPadding(7)).call(styleAxis);
svg.append('g').attr('transform', `translate(${hx1},0)`)
  .call(d3.axisRight(thetaY).tickValues(thetaTicks).tickSize(-9).tickSizeOuter(0).tickFormat('')).call(styleAxis);

svg.append('text').attr('x', (hx0 + hx1) / 2).attr('y', 1282).attr('text-anchor', 'middle')
  .attr('fill', '#222').style('font-size', '29px').text('Phi (deg)');
svg.append('text').attr('transform', 'translate(2478,784) rotate(-90)').attr('text-anchor', 'middle')
  .attr('fill', '#222').style('font-size', '29px').text('Theta (deg)');
svg.append('text').attr('transform', 'translate(3276,784) rotate(-90)').attr('text-anchor', 'middle')
  .attr('fill', '#222').style('font-size', '29px').text('Gain (dBi)');

// gain colour bar
const gainY = d3.scaleLinear().domain([-20, 8]).range([hy1, hy0]);
svg.append('rect').attr('x', 3190).attr('y', hy0).attr('width', 17).attr('height', hy1 - hy0).attr('fill', 'url(#jetGrad)');
const gainAxis = svg.append('g').attr('transform', 'translate(3207,0)')
  .call(d3.axisRight(gainY).tickValues(gainBarTicks).tickSize(-9).tickSizeOuter(0).tickPadding(7).tickFormat(d => String(d)))
  .call(styleAxis);
gainAxis.select('.domain').remove();
</script>
</body>
</html>
